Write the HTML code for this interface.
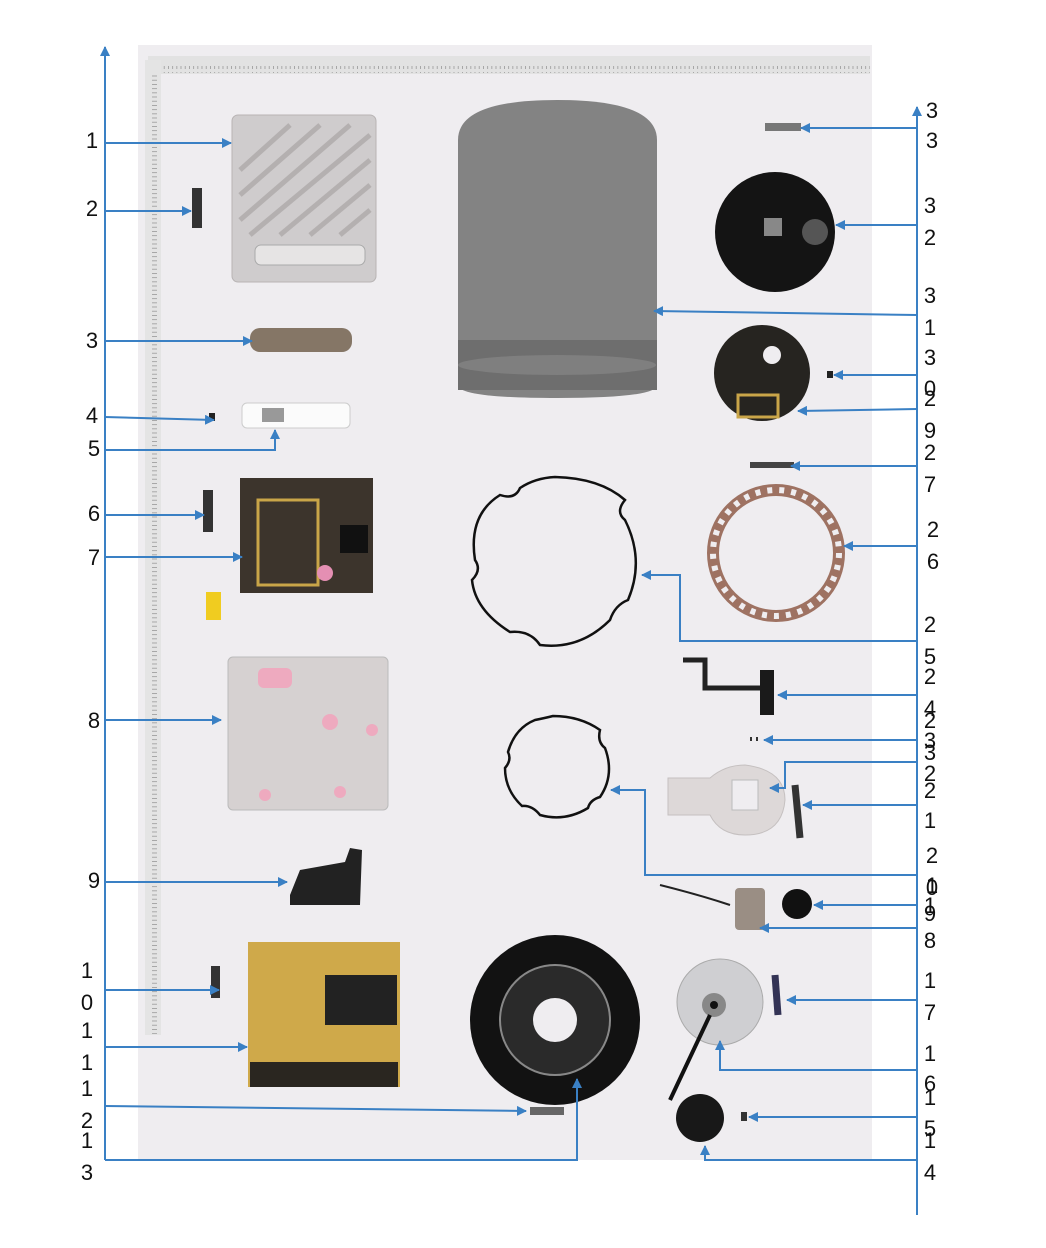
<!DOCTYPE html>
<html><head><meta charset="utf-8"><style>
html,body{margin:0;padding:0;background:#fff;width:1046px;height:1248px;overflow:hidden}
svg text{font-family:"Liberation Sans",sans-serif;font-size:22px;fill:#111}
</style></head><body>
<svg width="1046" height="1248" viewBox="0 0 1046 1248" xmlns="http://www.w3.org/2000/svg">
<defs>
<marker id="a" markerWidth="10" markerHeight="10" refX="9" refY="5" orient="auto" markerUnits="userSpaceOnUse"><path d="M0,0 L10,5 L0,10 Z" fill="#3a80c4"/></marker>
<pattern id="tk" width="4.2" height="8" patternUnits="userSpaceOnUse"><rect x="0" y="0" width="0.8" height="5" fill="#999"/></pattern>
<pattern id="tkv" width="8" height="4.2" patternUnits="userSpaceOnUse"><rect x="0" y="0" width="5" height="0.8" fill="#999"/></pattern>
</defs>
<!-- photo -->
<rect x="138" y="45" width="734" height="1115" fill="#efedf0"/>
<rect x="148" y="56" width="722" height="18" fill="#e2e2e2"/>
<rect x="160" y="66" width="710" height="7" fill="url(#tk)"/>
<rect x="145" y="60" width="16" height="975" fill="#e4e4e4"/>
<rect x="152" y="74" width="8" height="960" fill="url(#tkv)"/>
<!-- plate 1 -->
<rect x="232" y="115" width="144" height="167" rx="6" fill="#cfcccd" stroke="#b8b4b4"/>
<g stroke="#b4b0b0" stroke-width="5">
<line x1="240" y1="170" x2="290" y2="125"/><line x1="240" y1="195" x2="320" y2="125"/><line x1="240" y1="220" x2="350" y2="125"/><line x1="250" y1="235" x2="370" y2="135"/><line x1="280" y1="235" x2="370" y2="160"/><line x1="310" y1="235" x2="370" y2="185"/><line x1="340" y1="235" x2="370" y2="210"/>
</g>
<rect x="255" y="245" width="110" height="20" rx="6" fill="#e6e4e4" stroke="#aaa"/>
<!-- screws 2 -->
<rect x="192" y="188" width="10" height="40" fill="#333"/>
<!-- sponge 3 -->
<rect x="250" y="328" width="102" height="24" rx="10" fill="#857666"/>
<!-- 4,5 -->
<rect x="209" y="413" width="6" height="8" fill="#222"/>
<rect x="242" y="403" width="108" height="25" rx="5" fill="#fbfbfb" stroke="#ccc"/>
<rect x="262" y="408" width="22" height="14" fill="#999"/>
<!-- screws 6 -->
<rect x="203" y="490" width="10" height="42" fill="#333"/>
<!-- board 7 -->
<rect x="240" y="478" width="133" height="115" fill="#3c342c"/>
<rect x="258" y="500" width="60" height="85" fill="none" stroke="#c9a548" stroke-width="3"/>
<rect x="340" y="525" width="28" height="28" fill="#111"/>
<circle cx="325" cy="573" r="8" fill="#e48fb3"/>
<rect x="206" y="592" width="15" height="28" fill="#f0cc20"/>
<!-- plate 8 -->
<rect x="228" y="657" width="160" height="153" rx="5" fill="#d6d1d1" stroke="#bbb"/>
<rect x="258" y="668" width="34" height="20" rx="6" fill="#eeaabf"/>
<circle cx="330" cy="722" r="8" fill="#eeaabf"/><circle cx="372" cy="730" r="6" fill="#eeaabf"/><circle cx="265" cy="795" r="6" fill="#eeaabf"/><circle cx="340" cy="792" r="6" fill="#eeaabf"/>
<!-- cable 9 -->
<path d="M290 895 L300 870 L345 862 L350 848 L362 850 L360 905 L290 905 Z" fill="#222"/>
<!-- screws 10 -->
<rect x="211" y="966" width="9" height="32" fill="#333"/>
<!-- gold board 11 -->
<rect x="248" y="942" width="152" height="145" fill="#cfa94a"/>
<rect x="325" y="975" width="72" height="50" fill="#222"/>
<rect x="250" y="1062" width="148" height="25" fill="#2a2620"/>
<!-- screws 12 -->
<rect x="530" y="1107" width="34" height="8" fill="#666"/>
<!-- cylinder -->
<path d="M458 140 Q458 100 557 100 Q657 100 657 140 L657 385 Q657 398 557 398 Q458 398 458 385 Z" fill="#838383"/>
<rect x="458" y="340" width="199" height="50" fill="#6e6e6e"/>
<ellipse cx="557" cy="365" rx="99" ry="10" fill="#8a8a8a" opacity="0.6"/>
<!-- right parts -->
<rect x="765" y="123" width="36" height="8" fill="#777"/>
<circle cx="775" cy="232" r="60" fill="#141414"/>
<rect x="764" y="218" width="18" height="18" fill="#888"/>
<circle cx="815" cy="232" r="13" fill="#555"/>
<circle cx="762" cy="373" r="48" fill="#262420"/>
<rect x="738" y="395" width="40" height="22" fill="none" stroke="#c9a548" stroke-width="3"/>
<circle cx="772" cy="355" r="9" fill="#efedf0"/>
<rect x="827" y="371" width="6" height="7" fill="#222"/>
<rect x="750" y="462" width="44" height="6" fill="#444"/>
<circle cx="776" cy="553" r="63" fill="none" stroke="#9e7262" stroke-width="12"/>
<circle cx="776" cy="553" r="63" fill="none" stroke="#efedf0" stroke-width="6" stroke-dasharray="5 7"/>
<path d="M555 477 Q600 478 625 500 Q615 512 625 520 Q645 560 628 600 Q615 605 610 620 Q580 650 540 645 Q530 630 510 632 Q475 610 472 580 Q482 570 475 560 Q468 515 500 495 Q515 500 520 488 Q535 478 555 477 Z" fill="none" stroke="#111" stroke-width="2.5"/>
<path d="M553 716 Q580 716 600 730 Q597 742 605 748 Q615 775 600 797 Q590 800 588 808 Q565 822 540 815 Q532 805 522 806 Q505 790 505 768 Q512 760 508 752 Q515 728 535 720 Q545 718 553 716 Z" fill="none" stroke="#111" stroke-width="2.5"/>
<path d="M683 660 L705 660 L705 688 L765 688 L765 700" fill="none" stroke="#222" stroke-width="5"/>
<rect x="760" y="670" width="14" height="45" fill="#1a1a1a"/>
<rect x="750" y="737" width="2" height="4" fill="#333"/><rect x="756" y="737" width="2" height="4" fill="#333"/>
<path d="M668 778 L710 778 Q725 765 745 765 Q785 770 785 800 Q782 835 745 835 Q720 835 710 815 L668 815 Z" fill="#ddd8d8" stroke="#c5c0c0"/>
<rect x="732" y="780" width="26" height="30" fill="#efedf0" stroke="#bbb"/>
<path d="M795 785 L800 838" stroke="#333" stroke-width="7"/>
<path d="M660 885 Q700 895 730 905" stroke="#222" stroke-width="2" fill="none"/>
<rect x="735" y="888" width="30" height="42" rx="4" fill="#9a8e84"/>
<circle cx="797" cy="904" r="15" fill="#111"/>
<circle cx="720" cy="1002" r="43" fill="#cfcfd2" stroke="#aaa"/>
<circle cx="714" cy="1005" r="12" fill="#888"/><circle cx="714" cy="1005" r="4" fill="#111"/>
<path d="M710 1015 L670 1100" stroke="#111" stroke-width="4"/>
<path d="M775 975 L778 1015" stroke="#335" stroke-width="7"/>
<circle cx="700" cy="1118" r="24" fill="#181818"/>
<rect x="741" y="1112" width="6" height="9" fill="#333"/>
<circle cx="555" cy="1020" r="85" fill="#121212"/>
<circle cx="555" cy="1020" r="55" fill="#2a2a2a" stroke="#888" stroke-width="2"/>
<circle cx="555" cy="1020" r="22" fill="#efedf0"/>
<!-- callout lines -->
<g stroke="#3a80c4" stroke-width="2" fill="none">
<line x1="105" y1="1160" x2="105" y2="47" marker-end="url(#a)"/>
<line x1="917" y1="1215" x2="917" y2="107" marker-end="url(#a)"/>
<line x1="105" y1="143" x2="231" y2="143" marker-end="url(#a)"/>
<line x1="105" y1="211" x2="191" y2="211" marker-end="url(#a)"/>
<line x1="105" y1="341" x2="252" y2="341" marker-end="url(#a)"/>
<line x1="105" y1="417" x2="214" y2="420" marker-end="url(#a)"/>
<polyline points="105,450 275,450 275,430" marker-end="url(#a)"/>
<line x1="105" y1="515" x2="204" y2="515" marker-end="url(#a)"/>
<line x1="105" y1="557" x2="242" y2="557" marker-end="url(#a)"/>
<line x1="105" y1="720" x2="221" y2="720" marker-end="url(#a)"/>
<line x1="105" y1="882" x2="287" y2="882" marker-end="url(#a)"/>
<line x1="105" y1="990" x2="219" y2="990" marker-end="url(#a)"/>
<line x1="105" y1="1047" x2="247" y2="1047" marker-end="url(#a)"/>
<line x1="105" y1="1106" x2="526" y2="1111" marker-end="url(#a)"/>
<polyline points="105,1160 577,1160 577,1079" marker-end="url(#a)"/>
<line x1="917" y1="128" x2="801" y2="128" marker-end="url(#a)"/>
<line x1="917" y1="225" x2="836" y2="225" marker-end="url(#a)"/>
<line x1="917" y1="315" x2="654" y2="311" marker-end="url(#a)"/>
<line x1="917" y1="375" x2="834" y2="375" marker-end="url(#a)"/>
<line x1="917" y1="409" x2="798" y2="411" marker-end="url(#a)"/>
<line x1="917" y1="466" x2="791" y2="466" marker-end="url(#a)"/>
<line x1="917" y1="546" x2="844" y2="546" marker-end="url(#a)"/>
<polyline points="917,641 680,641 680,575 642,575" marker-end="url(#a)"/>
<line x1="917" y1="695" x2="778" y2="695" marker-end="url(#a)"/>
<line x1="917" y1="740" x2="764" y2="740" marker-end="url(#a)"/>
<polyline points="917,762 785,762 785,788 770,788" marker-end="url(#a)"/>
<line x1="917" y1="805" x2="803" y2="805" marker-end="url(#a)"/>
<polyline points="917,875 645,875 645,790 611,790" marker-end="url(#a)"/>
<line x1="917" y1="905" x2="814" y2="905" marker-end="url(#a)"/>
<line x1="917" y1="928" x2="760" y2="928" marker-end="url(#a)"/>
<line x1="917" y1="1000" x2="787" y2="1000" marker-end="url(#a)"/>
<polyline points="917,1070 720,1070 720,1041" marker-end="url(#a)"/>
<line x1="917" y1="1117" x2="749" y2="1117" marker-end="url(#a)"/>
<polyline points="917,1160 705,1160 705,1146" marker-end="url(#a)"/>
</g>
<!-- labels -->
<g text-anchor="middle">
<text x="92" y="148">1</text><text x="92" y="216">2</text><text x="92" y="348">3</text><text x="92" y="423">4</text><text x="94" y="456">5</text><text x="94" y="521">6</text><text x="94" y="565">7</text><text x="94" y="728">8</text><text x="94" y="888">9</text>
<text x="87" y="978">1</text><text x="87" y="1010">0</text><text x="87" y="1038">1</text><text x="87" y="1070">1</text><text x="87" y="1096">1</text><text x="87" y="1128">2</text><text x="87" y="1148">1</text><text x="87" y="1180">3</text>
<text x="932" y="118">3</text><text x="932" y="148">3</text>
<text x="930" y="213">3</text><text x="930" y="245">2</text>
<text x="930" y="303">3</text><text x="930" y="335">1</text>
<text x="930" y="365">3</text><text x="930" y="396">0</text>
<text x="930" y="406">2</text><text x="930" y="438">9</text>
<text x="930" y="460">2</text><text x="930" y="492">7</text>
<text x="933" y="537">2</text><text x="933" y="569">6</text>
<text x="930" y="632">2</text><text x="930" y="664">5</text>
<text x="930" y="684">2</text><text x="930" y="716">4</text>
<text x="930" y="728">2</text><text x="930" y="748">3</text>
<text x="930" y="760">3</text><text x="930" y="781">2</text><text x="930" y="798">2</text><text x="930" y="828">1</text>
<text x="932" y="863">2</text><text x="932" y="893">1</text><text x="932" y="895">0</text>
<text x="930" y="913">1</text><text x="930" y="921">9</text><text x="930" y="948">8</text>
<text x="930" y="988">1</text><text x="930" y="1020">7</text>
<text x="930" y="1061">1</text><text x="930" y="1091">6</text><text x="930" y="1105">1</text><text x="930" y="1136">5</text><text x="930" y="1148">1</text><text x="930" y="1180">4</text>
</g>
</svg>
</body></html>
